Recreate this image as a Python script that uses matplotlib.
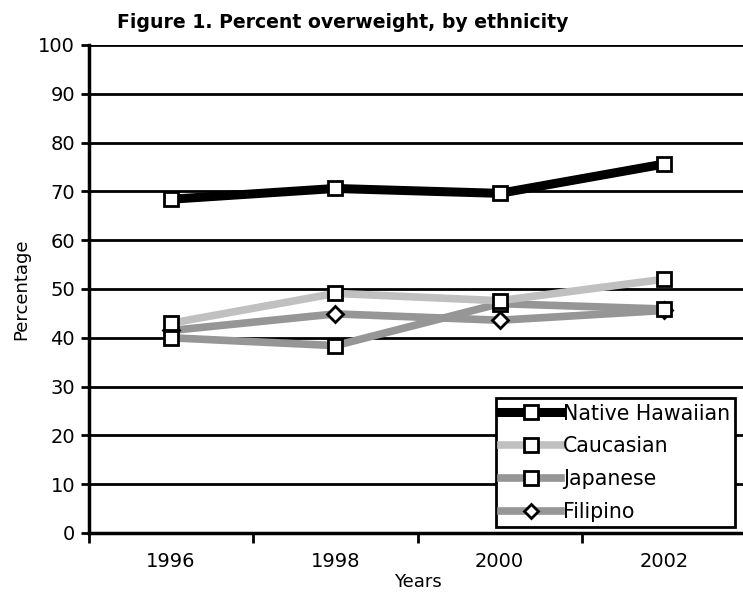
import matplotlib
matplotlib.use("Agg")
import matplotlib.pyplot as plt
from matplotlib.lines import Line2D

years = ["1996", "1998", "2000", "2002"]
native_hawaiian = [68.4, 70.6, 69.6, 75.6]
caucasian = [43.0, 49.1, 47.6, 52.0]
japanese = [40.0, 38.4, 47.0, 45.9]
filipino = [41.5, 44.9, 43.6, 45.6]
y_ticks = [0, 10, 20, 30, 40, 50, 60, 70, 80, 90, 100]

plt.rcParams['font.family'] = ['DejaVu Sans']

W, H = 743, 597
fig = plt.figure(figsize=(W / 100, H / 100), dpi=100)
ax = fig.add_axes([89 / W, (H - 533) / H, (746 - 89) / W, (533 - 45) / H])

x = list(range(len(years)))

series = [
    ("Native Hawaiian", native_hawaiian, "#000000", 6.5, "s", 10.5),
    ("Caucasian", caucasian, "#c0c0c0", 5.5, "s", 10.5),
    ("Japanese", japanese, "#969696", 5.5, "s", 10.5),
    ("Filipino", filipino, "#969696", 5.5, "D", 8),
]

for name, vals, col, lw, mk, ms in reversed(series):
    ax.plot(x, vals, color=col, lw=lw, marker=mk, ms=ms,
            mfc="white", mec="black", mew=2, zorder=3)

ax.set_xlim(-0.5, 3.5)
ax.set_ylim(0, 100)
ax.set_yticks(y_ticks)
ax.set_yticklabels([str(v) for v in y_ticks], fontsize=14)
ax.set_xticks([-0.5, 0.5, 1.5, 2.5, 3.5])
ax.set_xticklabels([])
ax.set_xticks(x, minor=True)
ax.set_xticklabels(years, minor=True, fontsize=14)
ax.tick_params(axis="x", which="minor", length=0, pad=14)
ax.tick_params(axis="x", which="major", length=7, width=2, direction="out")
ax.tick_params(axis="y", length=6, width=2, direction="out", pad=4)

for v in y_ticks[1:]:
    ax.axhline(v, color="black", lw=2, zorder=1)

for s in ["top", "right"]:
    ax.spines[s].set_visible(False)
for s in ["left", "bottom"]:
    ax.spines[s].set_linewidth(2.5)
    ax.spines[s].set_color("black")
ax.spines["left"].set_zorder(4)

ax.set_ylabel("Percentage", fontsize=13, labelpad=6)
ax.set_xlabel("Years", fontsize=13, labelpad=1)

fig.text(117 / W, 1 - 22 / H, "Figure 1. Percent overweight, by ethnicity",
         fontsize=13.6, fontweight="bold", va="center", ha="left")

handles = [Line2D([0], [0], color=col, lw=lw, marker=mk, ms=ms * 0.9,
                  mfc="white", mec="black", mew=2)
           for name, vals, col, lw, mk, ms in series]
leg = ax.legend(handles, [s[0] for s in series], loc="lower right",
                bbox_to_anchor=((735 - 89) / (746 - 89), (533 - 527) / (533 - 45)),
                fontsize=14.8, frameon=True, fancybox=False, framealpha=1,
                edgecolor="black", handlelength=2.9, handletextpad=0.1,
                labelspacing=0.62, borderpad=0.25, borderaxespad=0)
leg.get_frame().set_linewidth(2)
leg.set_zorder(5)

fig.savefig("out.png", dpi=100)
